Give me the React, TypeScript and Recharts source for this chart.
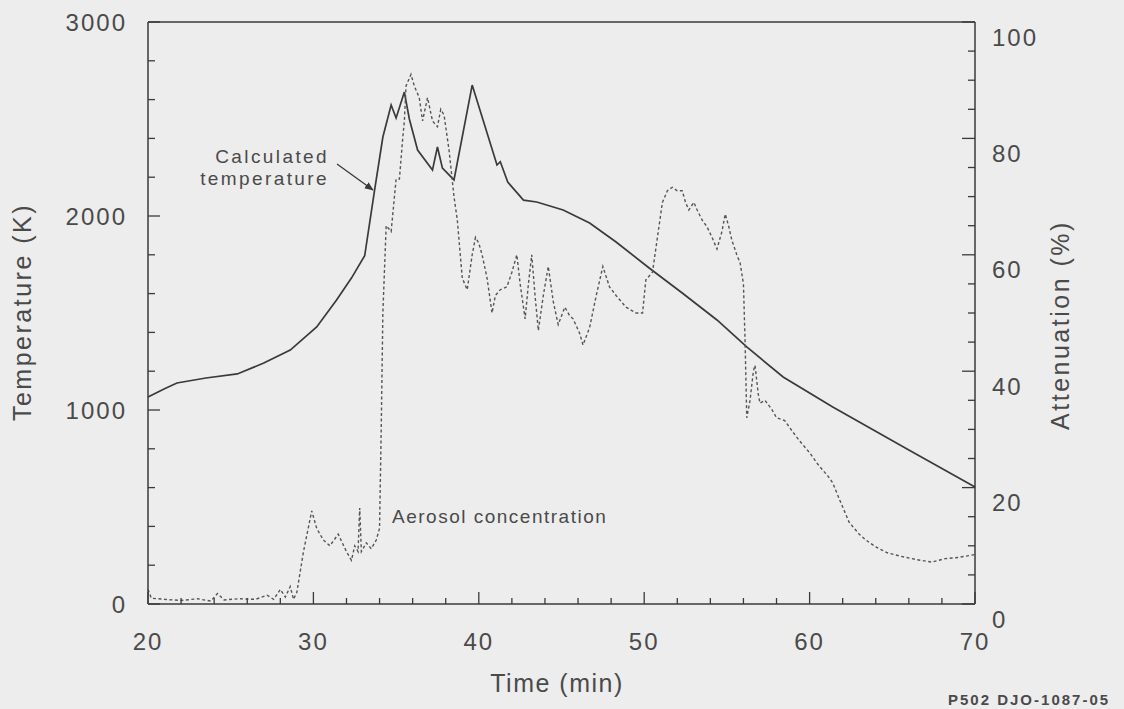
import { LineChart, Line, XAxis, YAxis } from "recharts";

// calculated temperature (K) against time (min)
const tempTime = [
  20.0, 21.0, 21.75, 23.5, 25.4, 27.0, 28.6, 30.2, 31.4, 32.3, 33.1, 33.7, 34.2, 34.7, 35.0,
  35.5, 35.8, 36.3, 37.2, 37.5, 37.8, 38.5, 39.6, 41.1, 41.3, 41.75, 42.7, 43.5, 45.1, 46.7,
  48.3, 50.3, 52.3, 54.4, 56.2, 58.4, 61.4, 66.0, 70.0,
];
const tempK = [
  1067, 1110, 1139, 1165, 1186, 1242, 1309, 1428, 1567, 1680, 1795, 2134, 2407, 2572, 2505,
  2639, 2500, 2340, 2237, 2356, 2247, 2186, 2675, 2263, 2280, 2175, 2082, 2072, 2031, 1964,
  1866, 1732, 1603, 1464, 1325, 1170, 1015, 794, 603,
];

// measured aerosol attenuation (%) against time (min)
const aerosolTime = [
  20.0, 20.2, 21.0, 22.0, 23.0, 23.8, 24.2, 24.6, 25.5, 26.5, 27.2, 27.6, 28.0, 28.3, 28.6,
  28.8, 29.0, 29.4, 29.9, 30.2, 30.6, 31.0, 31.5, 32.0, 32.3, 32.5, 32.7, 32.8, 32.9, 33.2,
  33.5, 33.8, 34.0, 34.1, 34.2, 34.4, 34.7, 35.0, 35.2, 35.4, 35.5, 35.6, 35.9, 36.1, 36.4,
  36.6, 36.9, 37.2, 37.5, 37.7, 37.9, 38.2, 38.5, 38.7, 39.0, 39.3, 39.6, 39.8, 40.0, 40.2,
  40.5, 40.8, 41.0, 41.3, 41.7, 42.0, 42.3, 42.5, 42.8, 43.0, 43.2, 43.4, 43.6, 43.9, 44.2,
  44.5, 44.8, 45.2, 45.5, 45.7, 46.1, 46.3, 46.5, 46.7, 47.1, 47.5, 47.9, 48.3, 48.6, 48.9,
  49.2, 49.5, 49.9, 50.1, 50.5, 50.8, 51.1, 51.4, 51.7, 52.0, 52.3, 52.5, 52.7, 53.0, 53.2,
  53.5, 53.8, 54.1, 54.4, 54.7, 54.9, 55.1, 55.3, 55.6, 55.8, 56.0, 56.1, 56.2, 56.4, 56.6,
  56.7, 56.9, 57.0, 57.3, 57.7, 58.0, 58.5, 59.0, 59.4, 60.0, 60.5, 60.8, 61.1, 61.4, 61.8,
  62.4, 63.0, 63.4, 64.0, 64.7, 65.5, 66.5, 67.4, 68.2, 69.0, 69.8, 70.0,
];
const attenuation = [
  2.5, 1.0, 0.8, 0.6, 0.9, 0.5, 1.8, 0.7, 0.9, 0.8, 1.5, 0.8, 2.5, 1.2, 3.0,
  0.8, 2.0, 9, 16, 13, 11, 10, 12, 9, 7.5, 10, 9, 16.5, 9, 10.5,
  9.5, 11, 13, 30, 50, 65, 64, 73, 73, 80, 83, 89, 91, 89, 87,
  83, 87, 83, 82, 85, 84, 78, 70, 66, 56, 54, 60, 63, 62, 60,
  56, 50, 53, 54, 54.5, 57, 60, 55, 49, 55, 60, 53, 47, 53, 58,
  52, 48, 51, 49.5, 49, 46.5, 44.5, 46, 47.5, 53, 58, 54.5, 53, 52, 51,
  50.5, 50, 50, 55.7, 57, 63, 69, 71, 71.6, 71, 71, 69, 67.7, 69, 67.7,
  66, 64.8, 63, 61, 64, 67, 65, 62.5, 60, 58.6, 55, 45, 32, 35, 40,
  41, 36, 34.5, 35, 33.5, 32, 31.5, 29.5, 28, 26, 24, 23, 22, 20.8, 18,
  14, 12, 11, 9.8, 8.8, 8.2, 7.6, 7.2, 7.8, 8.0, 8.4, 8.5,
];

const timeLabels = [20, 30, 40, 50, 60, 70];
const tempLabels = [0, 1000, 2000, 3000];
const attenLabels = [0, 20, 40, 60, 80, 100];

const steps = (from: number, to: number, step: number) => {
  const out: number[] = [];
  for (let v = from; v <= to + 1e-9; v += step) out.push(Math.round(v * 100) / 100);
  return out;
};
const timeTicks = steps(20, 70, 2);
const tempTicks = steps(0, 3000, 200);
const attenTicks = steps(0, 100, 5);

const tempData = tempTime.map((t, i) => ({ time: t, temp: tempK[i] }));
const aerosolData = aerosolTime.map((t, i) => ({ time: t, atten: attenuation[i] }));

const FONT = "'Liberation Sans', Arial, Helvetica, sans-serif";
const INK = "#3a3a3a";
const TEXT = "#4a4a4a";
const BG = "#ededed";

const tickText = {
  fill: TEXT,
  fontSize: 24,
  letterSpacing: 2,
  fontFamily: FONT,
};

function BottomTick({ x, y, payload }: any) {
  const major = timeLabels.includes(payload.value);
  return (
    <g>
      <line x1={x} x2={x} y1={y} y2={y - (major ? 12 : 6)} stroke={INK} strokeWidth={1.3} />
      {major && (
        <text x={x} y={y + 46} textAnchor="middle" {...tickText}>
          {payload.value}
        </text>
      )}
    </g>
  );
}

function TopTick({ x, y, payload }: any) {
  const major = timeLabels.includes(payload.value);
  return <line x1={x} x2={x} y1={y} y2={y + (major ? 14 : 7)} stroke={INK} strokeWidth={1.3} />;
}

function LeftTick({ x, y, payload }: any) {
  const major = tempLabels.includes(payload.value);
  return (
    <g>
      <line x1={x} x2={x + (major ? 12 : 7)} y1={y} y2={y} stroke={INK} strokeWidth={1.3} />
      {major && (
        <text x={x - 21} y={y} dy="0.36em" textAnchor="end" {...tickText}>
          {payload.value}
        </text>
      )}
    </g>
  );
}

function RightTick({ x, y, payload }: any) {
  const major = attenLabels.includes(payload.value);
  return (
    <g>
      <line x1={x} x2={x - (major ? 13 : 7)} y1={y} y2={y} stroke={INK} strokeWidth={1.3} />
      {major && (
        <text x={x + 17} y={y + 15} dy="0.36em" textAnchor="start" {...tickText}>
          {payload.value}
        </text>
      )}
    </g>
  );
}

const axisLine = { stroke: INK, strokeWidth: 1.5 };

export default function App() {
  return (
    <div style={{ position: "absolute", left: 0, top: 0, width: 1124, height: 709, background: BG }}>
      <LineChart width={1124} height={709} margin={{ top: 0, right: 0, bottom: 0, left: 0 }}>
        <XAxis
          dataKey="time"
          type="number"
          domain={[20, 70]}
          ticks={timeTicks}
          interval={0}
          height={105}
          tickSize={0}
          tickMargin={0}
          axisLine={axisLine}
          tick={<BottomTick />}
          allowDuplicatedCategory={false}
        />
        <XAxis
          xAxisId="top"
          orientation="top"
          type="number"
          domain={[20, 70]}
          ticks={timeTicks}
          interval={0}
          height={22}
          tickSize={0}
          tickMargin={0}
          axisLine={axisLine}
          tick={<TopTick />}
        />
        <YAxis
          yAxisId="temp"
          type="number"
          domain={[0, 3000]}
          ticks={tempTicks}
          interval={0}
          width={148}
          tickSize={0}
          tickMargin={0}
          axisLine={axisLine}
          tick={<LeftTick />}
        />
        <YAxis
          yAxisId="atten"
          orientation="right"
          type="number"
          domain={[0, 100]}
          ticks={attenTicks}
          interval={0}
          width={149}
          tickSize={0}
          tickMargin={0}
          axisLine={axisLine}
          tick={<RightTick />}
        />
        <Line
          yAxisId="temp"
          data={tempData}
          dataKey="temp"
          type="linear"
          stroke={INK}
          strokeWidth={1.7}
          dot={false}
          isAnimationActive={false}
        />
        <Line
          yAxisId="atten"
          data={aerosolData}
          dataKey="atten"
          type="linear"
          stroke="#555"
          strokeWidth={1.4}
          strokeDasharray="3 2.5"
          dot={false}
          isAnimationActive={false}
        />
      </LineChart>
      <svg
        width={1124}
        height={709}
        style={{ position: "absolute", left: 0, top: 0, pointerEvents: "none" }}
        fontFamily={FONT}
      >
        <defs>
          <marker id="head" viewBox="0 0 10 10" refX="9" refY="5" markerWidth="7" markerHeight="7" orient="auto">
            <path d="M0,1 L10,5 L0,9 z" fill={INK} />
          </marker>
        </defs>
        <text x={31} y={312} transform="rotate(-90 31 312)" textAnchor="middle" fill={TEXT} fontSize={25} letterSpacing={2.5}>
          Temperature (K)
        </text>
        <text x={1069} y={325} transform="rotate(-90 1069 325)" textAnchor="middle" fill={TEXT} fontSize={25} letterSpacing={2.5}>
          Attenuation (%)
        </text>
        <text x={557} y={692} textAnchor="middle" fill={TEXT} fontSize={25} letterSpacing={1.5}>
          Time (min)
        </text>
        <text x={329} y={163} textAnchor="end" fill={TEXT} fontSize={19} letterSpacing={2.4}>
          Calculated
        </text>
        <text x={329} y={185} textAnchor="end" fill={TEXT} fontSize={19} letterSpacing={2.4}>
          temperature
        </text>
        <line x1={337} y1={164} x2={373} y2={190} stroke={INK} strokeWidth={1.3} markerEnd="url(#head)" />
        <text x={392} y={523} fill={TEXT} fontSize={19} letterSpacing={1.5}>
          Aerosol concentration
        </text>
        <text x={948} y={705} fill={TEXT} fontSize={15} fontWeight="bold" letterSpacing={2}>
          P502 DJO-1087-05
        </text>
      </svg>
    </div>
  );
}
